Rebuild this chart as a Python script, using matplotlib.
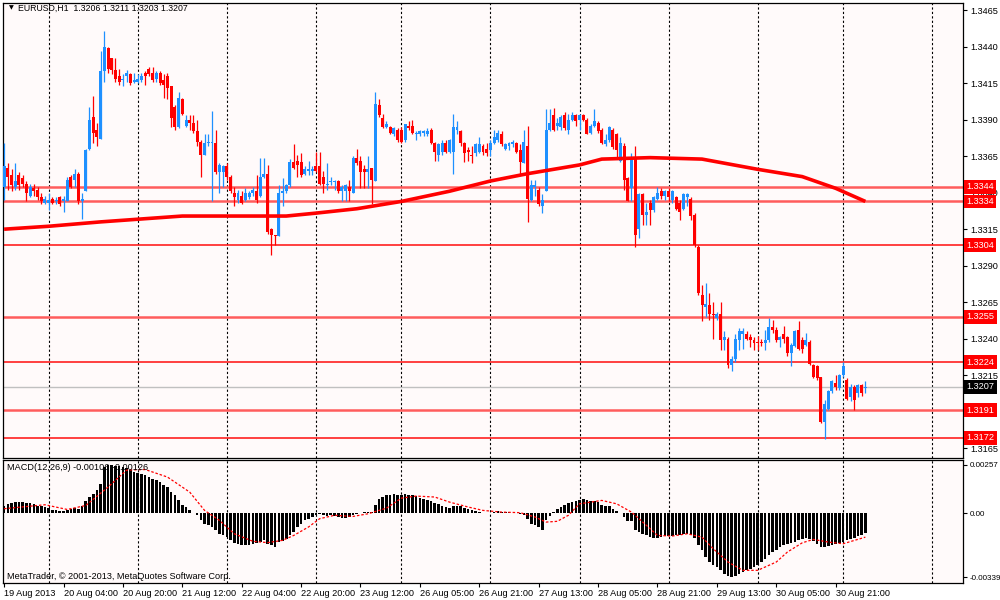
import numpy as np
import matplotlib
matplotlib.use('Agg')
import matplotlib.pyplot as plt

plt.rcParams['font.family'] = ['Liberation Sans', 'DejaVu Sans']

# EURUSD H1 candles (19 Aug 2013 12:00 ... 30 Aug 2013)
opens = [
    1.3344, 1.3357, 1.3352, 1.3344, 1.3352, 1.3350, 1.3346, 1.3338, 1.3343, 1.3342,
    1.3337, 1.3333, 1.3333, 1.3336, 1.3334, 1.3337, 1.3334, 1.3334, 1.3351, 1.3349,
    1.3353, 1.3334, 1.3341, 1.3370, 1.3392, 1.3383, 1.3377, 1.3423, 1.3439, 1.3432,
    1.3424, 1.3420, 1.3417, 1.3420, 1.3421, 1.3416, 1.3416, 1.3417, 1.3422, 1.3425,
    1.3422, 1.3418, 1.3422, 1.3417, 1.3420, 1.3413, 1.3399, 1.3385, 1.3404, 1.3386,
    1.3390, 1.3388, 1.3382, 1.3375, 1.3366, 1.3374, 1.3374, 1.3374, 1.3354, 1.3354,
    1.3358, 1.3351, 1.3340, 1.3335, 1.3338, 1.3335, 1.3337, 1.3340, 1.3341, 1.3338,
    1.3351, 1.3353, 1.3315, 1.3311, 1.3310, 1.3340, 1.3341, 1.3345, 1.3361, 1.3362,
    1.3361, 1.3353, 1.3355, 1.3355, 1.3358, 1.3358, 1.3351, 1.3345, 1.3347, 1.3347,
    1.3348, 1.3341, 1.3341, 1.3344, 1.3340, 1.3364, 1.3362, 1.3356, 1.3354, 1.3357,
    1.3348, 1.3400, 1.3391, 1.3385, 1.3385, 1.3380, 1.3383, 1.3383, 1.3376, 1.3386,
    1.3386, 1.3380, 1.3380, 1.3381, 1.3380, 1.3383, 1.3374, 1.3366, 1.3368, 1.3374,
    1.3368, 1.3368, 1.3383, 1.3382, 1.3374, 1.3369, 1.3366, 1.3367, 1.3368, 1.3372,
    1.3370, 1.3369, 1.3374, 1.3376, 1.3380, 1.3370, 1.3372, 1.3373, 1.3374, 1.3369,
    1.3360, 1.3372, 1.3335, 1.3344, 1.3342, 1.3331, 1.3341, 1.3383, 1.3393, 1.3386,
    1.3385, 1.3393, 1.3383, 1.3390, 1.3393, 1.3390, 1.3393, 1.3390, 1.3381, 1.3386,
    1.3388, 1.3383, 1.3373, 1.3376, 1.3383, 1.3380, 1.3362, 1.3372, 1.3350, 1.3343,
    1.3364, 1.3315, 1.3339, 1.3325, 1.3333, 1.3328, 1.3336, 1.3341, 1.3338, 1.3341,
    1.3335, 1.3337, 1.3333, 1.3329, 1.3337, 1.3336, 1.3325, 1.3303, 1.3270, 1.3262,
    1.3263, 1.3257, 1.3254, 1.3257, 1.3239, 1.3240, 1.3222, 1.3226, 1.3239, 1.3243,
    1.3243, 1.3241, 1.3239, 1.3238, 1.3238, 1.3237, 1.3239, 1.3248, 1.3246, 1.3239,
    1.3243, 1.3241, 1.3230, 1.3235, 1.3246, 1.3239, 1.3236, 1.3238, 1.3222, 1.3221,
    1.3214, 1.3183, 1.3192, 1.3204, 1.3210, 1.3206, 1.3215, 1.3212, 1.3200, 1.3207,
    1.3203, 1.3208, 1.3206]
highs = [
    1.3374, 1.3360, 1.3356, 1.3360, 1.3354, 1.3352, 1.3348, 1.3346, 1.3346, 1.3344,
    1.3340, 1.3338, 1.3340, 1.3337, 1.3337, 1.3338, 1.3338, 1.3351, 1.3352, 1.3356,
    1.3354, 1.3340, 1.3370, 1.3399, 1.3406, 1.3388, 1.3437, 1.3451, 1.3440, 1.3432,
    1.3432, 1.3425, 1.3421, 1.3424, 1.3422, 1.3422, 1.3421, 1.3422, 1.3423, 1.3426,
    1.3426, 1.3423, 1.3423, 1.3421, 1.3422, 1.3413, 1.3400, 1.3409, 1.3405, 1.3393,
    1.3393, 1.3393, 1.3390, 1.3376, 1.3380, 1.3380, 1.3396, 1.3383, 1.3360, 1.3359,
    1.3360, 1.3352, 1.3344, 1.3342, 1.3341, 1.3343, 1.3341, 1.3344, 1.3352, 1.3364,
    1.3364, 1.3359, 1.3316, 1.3311, 1.3345, 1.3350, 1.3346, 1.3363, 1.3373, 1.3366,
    1.3367, 1.3358, 1.3362, 1.3358, 1.3368, 1.3368, 1.3355, 1.3360, 1.3351, 1.3349,
    1.3349, 1.3345, 1.3346, 1.3349, 1.3365, 1.3370, 1.3365, 1.3359, 1.3365, 1.3357,
    1.3409, 1.3404, 1.3394, 1.3389, 1.3386, 1.3385, 1.3384, 1.3385, 1.3387, 1.3389,
    1.3390, 1.3382, 1.3383, 1.3383, 1.3384, 1.3384, 1.3375, 1.3374, 1.3376, 1.3376,
    1.3377, 1.3394, 1.3389, 1.3383, 1.3375, 1.3371, 1.3372, 1.3374, 1.3378, 1.3373,
    1.3374, 1.3376, 1.3383, 1.3383, 1.3382, 1.3374, 1.3375, 1.3376, 1.3375, 1.3373,
    1.3383, 1.3386, 1.3349, 1.3349, 1.3344, 1.3339, 1.3397, 1.3397, 1.3398, 1.3391,
    1.3393, 1.3395, 1.3394, 1.3395, 1.3394, 1.3394, 1.3394, 1.3391, 1.3387, 1.3397,
    1.3389, 1.3384, 1.3380, 1.3386, 1.3384, 1.3381, 1.3378, 1.3374, 1.3351, 1.3367,
    1.3372, 1.3340, 1.3340, 1.3333, 1.3335, 1.3338, 1.3344, 1.3343, 1.3342, 1.3343,
    1.3342, 1.3338, 1.3335, 1.3340, 1.3340, 1.3337, 1.3326, 1.3304, 1.3277, 1.3278,
    1.3271, 1.3265, 1.3258, 1.3265, 1.3245, 1.3241, 1.3228, 1.3243, 1.3247, 1.3247,
    1.3245, 1.3243, 1.3241, 1.3242, 1.3240, 1.3246, 1.3254, 1.3253, 1.3248, 1.3242,
    1.3249, 1.3242, 1.3237, 1.3246, 1.3252, 1.3241, 1.3244, 1.3239, 1.3223, 1.3222,
    1.3214, 1.3198, 1.3205, 1.3212, 1.3215, 1.3216, 1.3224, 1.3213, 1.3209, 1.3208,
    1.3209, 1.3209, 1.3211]
lows = [
    1.3335, 1.3342, 1.3341, 1.3342, 1.3342, 1.3344, 1.3334, 1.3337, 1.3338, 1.3335,
    1.3332, 1.3332, 1.3328, 1.3332, 1.3332, 1.3331, 1.3327, 1.3334, 1.3343, 1.3344,
    1.3332, 1.3322, 1.3341, 1.3369, 1.3374, 1.3372, 1.3377, 1.3416, 1.3422, 1.3421,
    1.3416, 1.3414, 1.3413, 1.3416, 1.3414, 1.3415, 1.3415, 1.3416, 1.3414, 1.3420,
    1.3416, 1.3416, 1.3414, 1.3405, 1.3404, 1.3385, 1.3383, 1.3384, 1.3393, 1.3385,
    1.3383, 1.3381, 1.3372, 1.3351, 1.3366, 1.3372, 1.3334, 1.3353, 1.3340, 1.3344,
    1.3349, 1.3340, 1.3331, 1.3333, 1.3332, 1.3334, 1.3336, 1.3338, 1.3333, 1.3337,
    1.3350, 1.3312, 1.3297, 1.3304, 1.3310, 1.3331, 1.3340, 1.3344, 1.3356, 1.3351,
    1.3351, 1.3352, 1.3352, 1.3352, 1.3354, 1.3345, 1.3340, 1.3342, 1.3345, 1.3342,
    1.3340, 1.3334, 1.3334, 1.3334, 1.3340, 1.3359, 1.3343, 1.3343, 1.3343, 1.3332,
    1.3348, 1.3392, 1.3384, 1.3384, 1.3380, 1.3379, 1.3375, 1.3374, 1.3375, 1.3383,
    1.3380, 1.3376, 1.3379, 1.3379, 1.3379, 1.3373, 1.3362, 1.3362, 1.3366, 1.3367,
    1.3367, 1.3353, 1.3380, 1.3372, 1.3361, 1.3362, 1.3360, 1.3365, 1.3367, 1.3366,
    1.3365, 1.3365, 1.3373, 1.3375, 1.3372, 1.3369, 1.3369, 1.3371, 1.3367, 1.3353,
    1.3360, 1.3320, 1.3334, 1.3338, 1.3331, 1.3326, 1.3341, 1.3382, 1.3382, 1.3383,
    1.3383, 1.3383, 1.3380, 1.3389, 1.3386, 1.3383, 1.3389, 1.3380, 1.3380, 1.3385,
    1.3381, 1.3373, 1.3372, 1.3375, 1.3370, 1.3364, 1.3361, 1.3342, 1.3334, 1.3334,
    1.3303, 1.3309, 1.3318, 1.3318, 1.3318, 1.3327, 1.3335, 1.3336, 1.3335, 1.3334,
    1.3333, 1.3328, 1.3321, 1.3328, 1.3331, 1.3321, 1.3303, 1.3270, 1.3252, 1.3255,
    1.3253, 1.3240, 1.3253, 1.3232, 1.3232, 1.3220, 1.3218, 1.3224, 1.3232, 1.3233,
    1.3239, 1.3234, 1.3232, 1.3232, 1.3235, 1.3232, 1.3238, 1.3244, 1.3238, 1.3234,
    1.3237, 1.3228, 1.3221, 1.3234, 1.3232, 1.3230, 1.3235, 1.3222, 1.3213, 1.3212,
    1.3182, 1.3171, 1.3191, 1.3203, 1.3205, 1.3205, 1.3214, 1.3198, 1.3197, 1.3191,
    1.3200, 1.3201, 1.3203]
closes = [
    1.3358, 1.3351, 1.3345, 1.3348, 1.3345, 1.3346, 1.3340, 1.3344, 1.3341, 1.3337,
    1.3334, 1.3336, 1.3335, 1.3333, 1.3335, 1.3332, 1.3336, 1.3349, 1.3344, 1.3353,
    1.3334, 1.3336, 1.3369, 1.3390, 1.3381, 1.3378, 1.3423, 1.3440, 1.3425, 1.3424,
    1.3418, 1.3416, 1.3418, 1.3422, 1.3415, 1.3417, 1.3418, 1.3420, 1.3420, 1.3421,
    1.3417, 1.3422, 1.3415, 1.3414, 1.3412, 1.3391, 1.3385, 1.3405, 1.3394, 1.3390,
    1.3388, 1.3382, 1.3375, 1.3366, 1.3374, 1.3375, 1.3375, 1.3354, 1.3359, 1.3358,
    1.3351, 1.3341, 1.3337, 1.3340, 1.3333, 1.3340, 1.3340, 1.3342, 1.3335, 1.3351,
    1.3353, 1.3313, 1.3311, 1.3310, 1.3340, 1.3341, 1.3345, 1.3361, 1.3357, 1.3359,
    1.3352, 1.3356, 1.3356, 1.3356, 1.3355, 1.3346, 1.3346, 1.3346, 1.3348, 1.3348,
    1.3341, 1.3344, 1.3345, 1.3341, 1.3364, 1.3360, 1.3354, 1.3354, 1.3356, 1.3349,
    1.3401, 1.3393, 1.3385, 1.3387, 1.3381, 1.3384, 1.3376, 1.3375, 1.3387, 1.3384,
    1.3381, 1.3381, 1.3382, 1.3382, 1.3382, 1.3374, 1.3368, 1.3373, 1.3374, 1.3368,
    1.3376, 1.3385, 1.3385, 1.3374, 1.3367, 1.3368, 1.3365, 1.3373, 1.3373, 1.3368,
    1.3367, 1.3374, 1.3378, 1.3381, 1.3373, 1.3373, 1.3374, 1.3375, 1.3368, 1.3361,
    1.3375, 1.3336, 1.3345, 1.3345, 1.3332, 1.3335, 1.3383, 1.3388, 1.3383, 1.3388,
    1.3392, 1.3384, 1.3390, 1.3393, 1.3389, 1.3393, 1.3390, 1.3380, 1.3386, 1.3389,
    1.3382, 1.3374, 1.3376, 1.3385, 1.3371, 1.3369, 1.3374, 1.3349, 1.3334, 1.3364,
    1.3311, 1.3339, 1.3325, 1.3327, 1.3328, 1.3337, 1.3340, 1.3338, 1.3341, 1.3337,
    1.3341, 1.3329, 1.3327, 1.3339, 1.3339, 1.3324, 1.3304, 1.3271, 1.3263, 1.3264,
    1.3257, 1.3256, 1.3257, 1.3239, 1.3241, 1.3222, 1.3226, 1.3240, 1.3245, 1.3245,
    1.3240, 1.3239, 1.3237, 1.3237, 1.3237, 1.3239, 1.3248, 1.3246, 1.3239, 1.3241,
    1.3240, 1.3230, 1.3236, 1.3245, 1.3233, 1.3233, 1.3239, 1.3223, 1.3214, 1.3213,
    1.3183, 1.3195, 1.3204, 1.3211, 1.3207, 1.3215, 1.3221, 1.3199, 1.3207, 1.3198,
    1.3208, 1.3203, 1.3207]

# MACD(12,26,9) main line, in units of 0.00001
macd_pts = [
    42, 48, 54, 58, 60, 60, 57, 53, 48, 42,
    38, 34, 28, 20, 16, 12, 11, 20, 25, 28,
    22, 38, 65, 87, 104, 122, 157, 246, 255, 255,
    252, 250, 246, 241, 228, 222, 216, 211, 202, 193,
    184, 180, 166, 152, 140, 113, 96, 69, 46, 34,
    16, 4, -10, -37, -55, -63, -72, -90, -108, -113,
    -126, -143, -156, -163, -170, -170, -170, -161, -156, -152,
    -143, -161, -166, -179, -152, -149, -135, -117, -96, -72,
    -55, -37, -28, -19, -10, -2, -7, -14, -10, -16,
    -19, -23, -25, -19, -7, -2, 2, 5, 5, 5,
    46, 74, 87, 96, 99, 101, 99, 99, 101, 99,
    96, 90, 83, 78, 69, 64, 57, 48, 39, 34,
    30, 42, 42, 37, 28, 21, 16, 11, 7, 4,
    4, 4, 7, 11, 7, 7, 7, 4, 4, -3,
    -10, -32, -55, -63, -72, -90, -37, -14, 7, 21,
    34, 46, 55, 60, 65, 72, 78, 69, 65, 65,
    60, 46, 39, 39, 25, 11, 4, -19, -42, -42,
    -90, -99, -108, -117, -126, -131, -131, -126, -122, -120,
    -120, -117, -113, -110, -110, -117, -131, -166, -196, -232,
    -258, -272, -285, -302, -320, -333, -338, -333, -320, -311,
    -302, -294, -285, -272, -258, -244, -223, -205, -193, -179,
    -166, -161, -157, -152, -143, -135, -131, -135, -149, -161,
    -179, -179, -173, -170, -160, -155, -150, -142, -135, -128,
    -120, -113, -106]

# signal line, read at a set of bars (units of 0.00001)
signal_bars = [0, 11, 17, 22, 28, 33, 38, 44, 50, 54, 58, 62, 67, 71, 75, 78,
               82, 85, 89, 94, 98, 103, 107, 111, 116, 120, 125, 129, 134, 139,
               143, 146, 149, 152, 155, 161, 165, 169, 173, 176, 180, 184, 188,
               191, 195, 199, 203, 208, 211, 215, 218, 222, 226, 232]
signal_pts = [25, 46, 21, 42, 140, 230, 233, 193, 113, 16, -37, -108, -148,
              -155, -143, -117, -72, -28, -10, -16, -2, 28, 81, 92, 87, 60, 34,
              16, 7, 4, -19, -46, -42, -10, 51, 69, 51, 7, -63, -117, -120,
              -108, -126, -187, -258, -302, -302, -258, -205, -156, -138, -152,
              -161, -126]

# thick red moving average
ma_bars = [0, 12, 26, 37, 48, 57, 76, 84, 95, 107, 120, 131, 141, 155, 161,
           174, 188, 203, 215, 224, 232]
ma_vals = [1.3315, 1.3317, 1.3320, 1.3322, 1.3324, 1.3324, 1.3324, 1.3326,
           1.3329, 1.3334, 1.3341, 1.3348, 1.3353, 1.3359, 1.3363, 1.3364,
           1.3363, 1.3356, 1.3351, 1.3343, 1.3334]

levels_strong = [1.3304, 1.3224, 1.3172]
levels_soft = [1.3344, 1.3334, 1.3255, 1.3191]
bid = 1.3207

# 1.3190 sits under the 1.3191 box, so it is left out
price_ticks = [1.3165, 1.3215, 1.3240, 1.3265, 1.3290, 1.3315,
               1.3340, 1.3365, 1.3390, 1.3415, 1.3440, 1.3465]
date_bars = [0, 16, 32, 48, 64, 80, 96, 112, 128, 144, 160, 176, 192, 208, 224]
date_labels = ['19 Aug 2013', '20 Aug 04:00', '20 Aug 20:00', '21 Aug 12:00',
               '22 Aug 04:00', '22 Aug 20:00', '23 Aug 12:00', '26 Aug 05:00',
               '26 Aug 21:00', '27 Aug 13:00', '28 Aug 05:00', '28 Aug 21:00',
               '29 Aug 13:00', '30 Aug 05:00', '30 Aug 21:00']
grid_bars = [12, 36, 60, 84, 107, 131, 155, 179, 203, 226, 250]

BLUE = '#1e90ff'
RED = '#ff0000'
BG = '#fffafa'
FS = 6.6

o = np.array(opens)
h = np.array(highs)
l = np.array(lows)
c = np.array(closes)
x = np.arange(len(c))
macd = np.array(macd_pts) * 1e-5
signal = np.array(signal_pts) * 1e-5

fig = plt.figure(figsize=(10, 6), dpi=100, facecolor='white')
ax = fig.add_axes([0.003, 142 / 600, 0.960, 455 / 600], facecolor=BG)
ax2 = fig.add_axes([0.003, 17 / 600, 0.960, 123 / 600], facecolor=BG)

xlim = (-0.3, 258.3)
for a in (ax, ax2):
    a.set_xlim(*xlim)
    for s in a.spines.values():
        s.set_color('black')
        s.set_linewidth(0.9)
    for g in grid_bars:
        a.axvline(g, color='black', lw=0.8, ls=(0, (2, 2)), zorder=1)
    a.yaxis.tick_right()
    a.tick_params(axis='y', direction='out', length=3, width=0.8,
                  labelsize=FS, pad=2)

# price pane
ax.set_ylim(1.31583, 1.34699)
ax.set_xticks([])
ax.set_yticks(price_ticks)
ax.set_yticklabels(['%.4f' % t for t in price_ticks])

for lv in levels_soft:
    ax.axhline(lv, color='#ff5c5c', lw=1.8, zorder=2)
for lv in levels_strong:
    ax.axhline(lv, color='#ff2020', lw=1.2, zorder=2)
ax.axhline(bid, color='#c0c0c0', lw=1.0, zorder=2)

up = c >= o
cols = np.where(up, BLUE, RED)
top = np.maximum(h, np.maximum(o, c))
bot = np.minimum(l, np.minimum(o, c))
ax.vlines(x, bot, top, colors=cols, lw=0.9, zorder=3)
body_lo = np.minimum(o, c)
body_h = np.maximum(np.abs(c - o), 0.00007)
ax.bar(x, body_h, bottom=body_lo, width=0.8, color=cols, lw=0, zorder=4)

ax.plot(ma_bars, ma_vals, color=RED, lw=2.6, zorder=5, solid_capstyle='butt',
        solid_joinstyle='round')

ytr = ax.get_yaxis_transform()
for lv in levels_soft + levels_strong:
    ax.text(1.0035, lv, '%.4f' % lv, transform=ytr, ha='left', va='center',
            fontsize=FS, color='white', zorder=10, clip_on=False,
            bbox=dict(boxstyle='square,pad=0.25', fc=RED, ec='none'))
ax.text(1.0035, bid, '%.4f' % bid, transform=ytr, ha='left', va='center',
        fontsize=FS, color='white', zorder=10, clip_on=False,
        bbox=dict(boxstyle='square,pad=0.25', fc='black', ec='none'))

ax.text(0.006, 0.989, '\u25bc', transform=ax.transAxes, fontsize=4.5,
        va='center', ha='left', family='DejaVu Sans')
ax.text(0.016, 0.989, 'EURUSD,H1  1.3206 1.3211 1.3203 1.3207',
        transform=ax.transAxes, fontsize=6.3, va='center', ha='left')

# MACD pane
ax2.set_ylim(-0.003693, 0.002835)
ax2.bar(x, macd, width=0.7, color='black', lw=0, zorder=3)
ax2.plot(signal_bars, signal, color=RED, lw=0.9, ls=(0, (2, 1.5)), zorder=4)
ax2.set_yticks([0.00257, 0.0, -0.00339])
ax2.set_yticklabels(['0.00257', '0.00', '-0.00339'])
ax2.tick_params(axis='y', labelsize=5.8, pad=1.5)
ax2.set_xticks(date_bars)
ax2.set_xticklabels(date_labels, ha='left')
ax2.tick_params(axis='x', direction='out', length=3, width=0.8,
                labelsize=FS, pad=1.5)

ax2.text(0.004, 0.94, 'MACD(12,26,9) -0.00106 -0.00126', transform=ax2.transAxes,
         fontsize=FS, va='center', ha='left', zorder=6)
ax2.text(0.004, 0.05, 'MetaTrader, \u00a9 2001-2013, MetaQuotes Software Corp.',
         transform=ax2.transAxes, fontsize=FS, va='center', ha='left', zorder=6)

fig.savefig('out.png', dpi=100, facecolor='white')
